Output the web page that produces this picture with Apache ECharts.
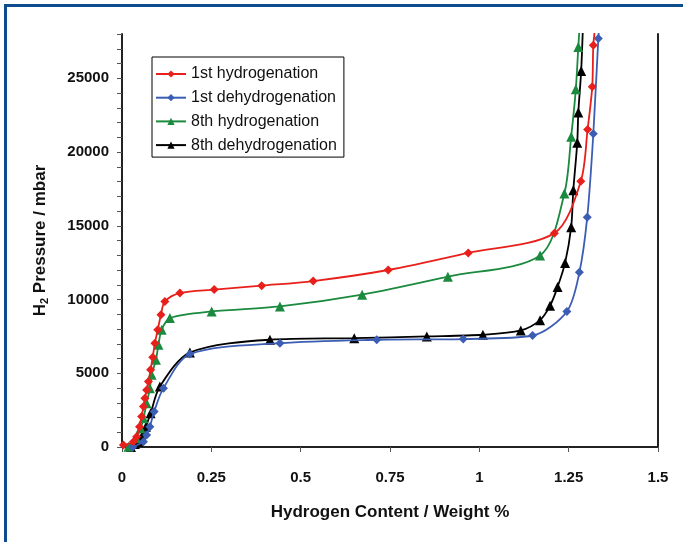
<!DOCTYPE html>
<html><head><meta charset="utf-8">
<script src="https://cdn.jsdelivr.net/npm/echarts@6/dist/echarts.min.js"></script>
<style>
html,body{margin:0;padding:0;background:#fff;}
#frame{position:absolute;left:4px;top:4px;width:679px;height:538px;border-left:3px solid #0d4d8e;border-top:3px solid #0d4d8e;box-sizing:border-box;}
#chart{position:absolute;left:0;top:0;width:683px;height:542px;}
</style></head>
<body>
<div id="frame"></div>
<div id="chart"></div>
<script>
// Data: [hydrogen content wt%, H2 pressure mbar]
const seriesNames = ['1st hydrogenation', '1st dehydrogenation', '8th hydrogenation', '8th dehydrogenation'];
const xTicks = [0, 0.25, 0.5, 0.75, 1, 1.25, 1.5];
const yTicks = [0, 5000, 10000, 15000, 20000, 25000];

const hyd1 = [[0.004,130],[0.032,360],[0.041,700],[0.049,1380],[0.055,2060],[0.06,2740],[0.064,3310],[0.069,3870],[0.074,4440],[0.08,5230],[0.086,6090],[0.092,7040],[0.1,7950],[0.109,8970],[0.12,9870],[0.162,10440],[0.258,10670],[0.391,10940],[0.535,11250],[0.745,12000],[0.969,13160],[1.21,14500],[1.284,18020],[1.303,21530],[1.316,24430],[1.319,27240],[1.325,28600]];
const dehyd1 = [[0.03,0],[0.06,360],[0.069,815],[0.078,1380],[0.09,2400],[0.116,3990],[0.19,6300],[0.442,7040],[0.713,7270],[0.955,7320],[1.149,7560],[1.245,9190],[1.28,11840],[1.302,15580],[1.319,21240],[1.333,27700],[1.336,28600]];
const hyd8 = [[0.018,20],[0.04,600],[0.052,1270],[0.06,1950],[0.069,2970],[0.078,3985],[0.083,4890],[0.095,5910],[0.102,6930],[0.111,7950],[0.134,8740],[0.251,9190],[0.442,9530],[0.672,10330],[0.912,11550],[1.17,12990],[1.238,17190],[1.257,21040],[1.27,24250],[1.277,27120],[1.281,28600]];
const dehyd8 = [[0.025,0],[0.036,200],[0.046,360],[0.055,700],[0.067,1380],[0.08,2290],[0.106,4100],[0.19,6400],[0.414,7270],[0.65,7380],[0.853,7500],[1.01,7610],[1.116,7900],[1.17,8600],[1.198,9580],[1.219,10850],[1.24,12480],[1.257,14900],[1.263,17410],[1.274,20630],[1.277,22670],[1.285,25500],[1.29,28600]];

const colors = ['#e8201c', '#3c5db4', '#1b8a3e', '#000000'];
const symbols = ['diamond', 'diamond', 'triangle', 'triangle'];
const datasets = [hyd1, dehyd1, hyd8, dehyd8];

const FONT = '"Liberation Sans", Arial, sans-serif';
const chart = echarts.init(document.getElementById('chart'));
const axisLineStyle = {color: '#222', width: 2};
chart.setOption({
  animation: false,
  backgroundColor: 'transparent',
  grid: {left: 122, right: 25, top: 34, bottom: 95, outerBoundsMode: 'none', containLabel: false},
  legend: {
    orient: 'vertical', left: 152, top: 57,
    data: seriesNames,
    borderColor: '#000', borderWidth: 1, borderRadius: 0,
    padding: [8, 7, 3, 3], itemGap: 5.7, itemWidth: 30, itemHeight: 9,
    textStyle: {fontFamily: FONT, fontSize: 16, color: '#111', lineHeight: 18, padding: [0,0,0,0]}
  },
  xAxis: {
    type: 'value', min: xTicks[0], max: xTicks[xTicks.length-1], interval: 0.25,
    name: 'Hydrogen Content / Weight %', nameLocation: 'middle', nameGap: 57,
    nameTextStyle: {fontFamily: FONT, fontSize: 17, fontWeight: 'bold', color: '#111'},
    axisLine: {show: true, lineStyle: axisLineStyle},
    axisTick: {show: true, inside: false, length: 5, lineStyle: {color: '#555', width: 1}},
    axisLabel: {fontFamily: FONT, fontSize: 15, fontWeight: 'bold', color: '#111', margin: 23,
      formatter: v => String(v)},
    splitLine: {show: false}
  },
  yAxis: [{
    type: 'value', min: 0, max: 28000, interval: 5000,
    name: '{a|H}{s|2}{a| Pressure / mbar}', nameLocation: 'middle', nameGap: 72, nameRotate: 90,
    nameTextStyle: {fontFamily: FONT, fontSize: 17, fontWeight: 'bold', color: '#111',
      rich: {a: {fontFamily: FONT, fontSize: 17, fontWeight: 'bold', color: '#111'},
             s: {fontFamily: FONT, fontSize: 11, fontWeight: 'bold', color: '#111', verticalAlign: 'bottom', padding: [8,0,0,0]}}},
    axisLine: {show: true, lineStyle: axisLineStyle},
    axisTick: {show: true, inside: false, length: 5, lineStyle: {color: '#555', width: 1}},
    minorTick: {show: true, splitNumber: 5, length: 5, lineStyle: {color: '#555', width: 1}},
    axisLabel: {fontFamily: FONT, fontSize: 15, fontWeight: 'bold', color: '#111', margin: 13,
      customValues: yTicks, formatter: v => String(v)},
    splitLine: {show: false}, minorSplitLine: {show: false}
  }, {
    type: 'value', min: 0, max: 28000, position: 'right',
    axisLine: {show: true, lineStyle: axisLineStyle},
    axisTick: {show: false}, axisLabel: {show: false}, splitLine: {show: false}
  }],
  series: datasets.map((d, i) => ({
    name: seriesNames[i], type: 'line', data: d,
    yAxisIndex: 0,
    smooth: 0.3, clip: true,
    symbol: symbols[i], symbolSize: symbols[i] === 'diamond' ? 9 : 10,
    showAllSymbol: true,
    lineStyle: {color: colors[i], width: 1.8},
    itemStyle: {color: colors[i]},
    z: 10 - i
  }))
});
</script>
</body></html>
